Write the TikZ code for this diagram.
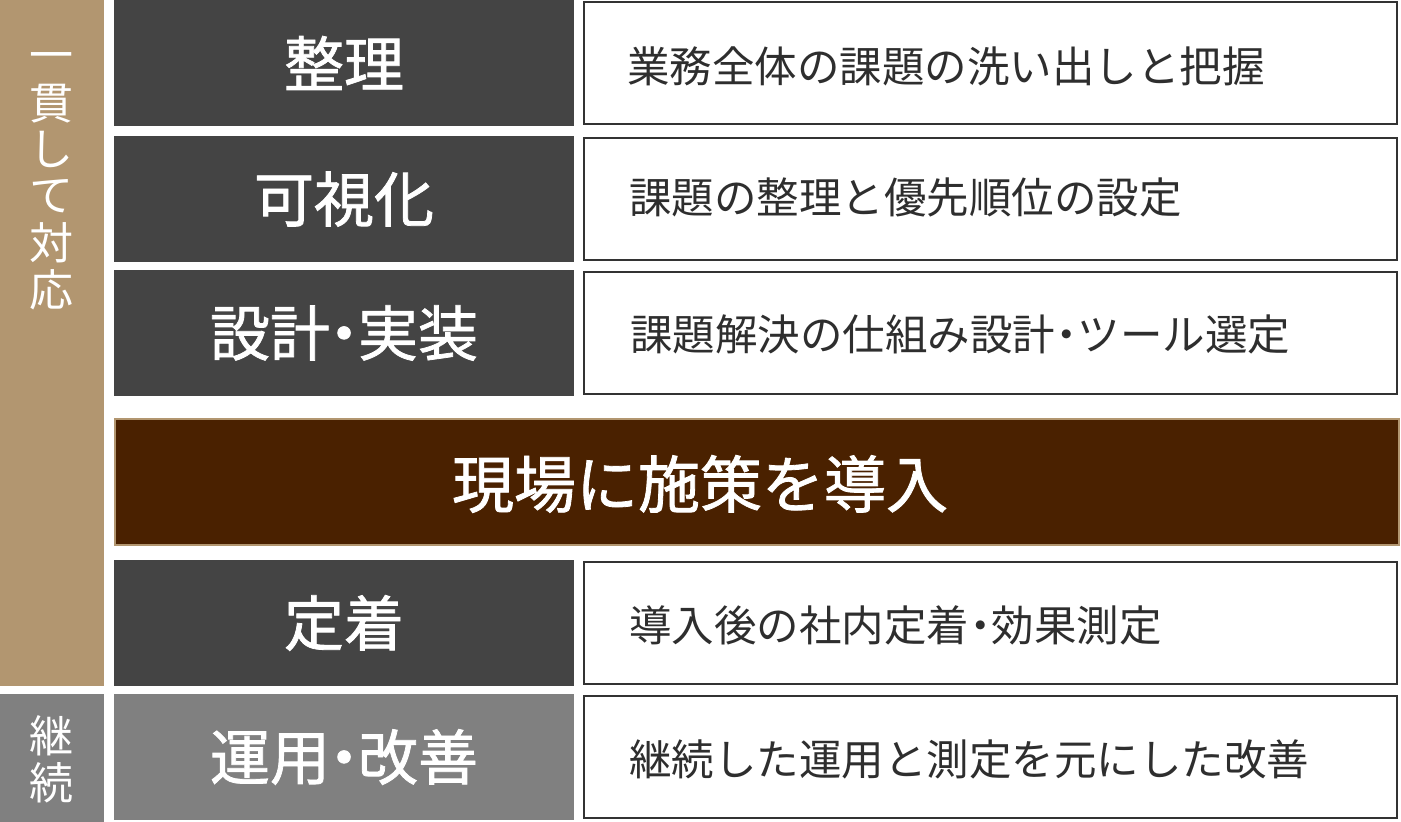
\documentclass[tikz,border=0pt]{standalone}
\usepackage{fontspec}
\newfontfamily\jp{Noto Sans CJK JP}
\newfontfamily\jpmed[FakeBold=1.3]{Noto Sans CJK JP}
\definecolor{tanbar}{HTML}{B29670}
\definecolor{darkbox}{HTML}{444444}
\definecolor{greybox}{HTML}{808080}
\definecolor{brownbox}{HTML}{4A2100}
\definecolor{boxline}{HTML}{333333}
\definecolor{desctext}{HTML}{2E2E2E}
\newcommand{\nakaguro}{\kern-16pt・\kern-16pt}
\newcommand{\nakaguros}{\kern-10pt・\kern-10pt}
\begin{document}
\begin{tikzpicture}[x=1pt,y=-1pt,
    every node/.style={inner sep=0pt,outer sep=0pt},
    sidebar/.style={minimum width=104pt,anchor=north west},
    vchar/.style={text=white,font=\jp\fontsize{44}{46}\selectfont},
    titlebox/.style={fill=darkbox,text=white,minimum width=460pt,minimum height=126pt,
      font=\jpmed\fontsize{60}{64}\selectfont},
    descbox/.style={draw=boxline,line width=2.5pt,fill=white,minimum width=813pt,minimum height=122pt},
    desc/.style={text=desctext,anchor=west,font=\jp\fontsize{42.5}{46}\selectfont}]
  \useasboundingbox[fill=white] (0,0) rectangle (1401,822);
  % left bars
  \node[sidebar,fill=tanbar,minimum height=686pt] (ikkan) at (0,0) {};
  \node[sidebar,fill=greybox,minimum height=128pt] (keizoku) at (0,694) {};
  \foreach \c [count=\i from 0] in {一,貫,し,て,対,応}
    \node[vchar] (v\i) at (52,57+46.5*\i) {\c\vphantom{口}};
  \foreach \c [count=\i from 0] in {継,続}
    \node[vchar] (k\i) at (52,736+47*\i) {\c\vphantom{口}};
  % rows
  \node[titlebox] (t1) at (344,63) {整理};
  \node[titlebox] (t2) at (344,199) {可視化};
  \node[titlebox] (t3) at (344,333) {設計\nakaguro 実装};
  \node[titlebox] (t5) at (344,623) {定着};
  \node[titlebox,fill=greybox] (t6) at (344,757) {運用\nakaguro 改善};
  \node[descbox] (d1) at (990.5,63) {};
  \node[descbox] (d2) at (990.5,199) {};
  \node[descbox] (d3) at (990.5,333) {};
  \node[descbox] (d5) at (990.5,623) {};
  \node[descbox] (d6) at (990.5,757) {};
  \node[desc] (s1) at (627,66) {業務全体の課題の洗い出しと把握};
  \node[desc] (s2) at (629,197) {課題の整理と優先順位の設定};
  \node[desc] (s3) at (630,334) {課題解決の仕組み設計\nakaguros ツール選定};
  \node[desc] (s5) at (629,625) {導入後の社内定着\nakaguros 効果測定};
  \node[desc] (s6) at (629,759) {継続した運用と測定を元にした改善};
  % middle band
  \node[fill=brownbox,draw=tanbar,line width=2.5pt,minimum width=1284pt,minimum height=126pt] (genba) at (757,482) {};
  \node[text=white,font=\jpmed\fontsize{62}{66}\selectfont] (genbatext) at (700,484) {現場に施策を導入};
\end{tikzpicture}
\end{document}
